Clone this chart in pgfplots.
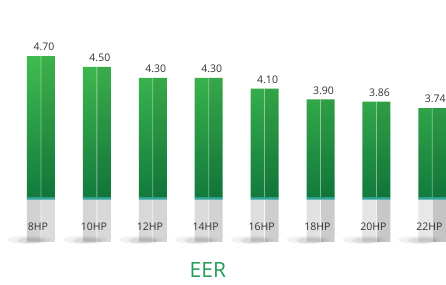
\documentclass[border=0pt]{standalone}
\usepackage{pgfplots}
\pgfplotsset{compat=1.18}
\usepackage{fontspec}
\setmainfont{Open Sans}
\definecolor{gtop}{HTML}{41BB4F}
\definecolor{gbot}{HTML}{127B3D}
\definecolor{teal1}{HTML}{2FA79A}
\definecolor{gl1}{HTML}{D2D2D2}
\definecolor{gl2}{HTML}{E8E8E8}
\definecolor{gr1}{HTML}{DCDCDC}
\definecolor{gr2}{HTML}{C4C4C4}
\definecolor{labelgray}{HTML}{333333}
\definecolor{eer}{HTML}{1F9E55}
\begin{document}
\begin{tikzpicture}
\useasboundingbox (0,0) rectangle (446pt,284pt);
\begin{axis}[at={(0,0)}, anchor=south west, scale only axis,
  width=446pt, height=284pt,
  xmin=-0.733, xmax=7.245, ymin=-1.605, ymax=3.635,
  axis on top,
  axis line style={draw=none}, tick style={draw=none}, ytick=\empty,
  xtick={0,...,7},
  xticklabels={8HP,10HP,12HP,14HP,16HP,18HP,20HP,22HP},
  xticklabel style={anchor=center, yshift=62pt, xshift=-3pt,
    font=\fontsize{10.5}{12}\selectfont, text=labelgray},
  ybar, bar width=28pt,
]
% shadows
\addplot[only marks, draw=none, fill=black, fill opacity=0.05, mark=*, mark size=4pt,
  mark options={xscale=5.5, draw=none, draw opacity=0, fill=black, fill opacity=0.05}]
  coordinates {(-0.22,-0.79) (0.78,-0.79) (1.78,-0.79) (2.78,-0.79)
               (3.78,-0.79) (4.78,-0.79) (5.78,-0.79) (6.78,-0.79)};
\addplot[only marks, draw=none, fill=black, fill opacity=0.09, mark=*, mark size=2.8pt,
  mark options={xscale=5, draw=none, draw opacity=0, fill=black, fill opacity=0.09}]
  coordinates {(-0.18,-0.80) (0.82,-0.80) (1.82,-0.80) (2.82,-0.80)
               (3.82,-0.80) (4.82,-0.80) (5.82,-0.80) (6.82,-0.80)};
% gray bases
\addplot[bar shift=-7pt, bar width=14pt, draw=none, left color=gl1, right color=gl2]
  coordinates {(0,-0.83) (1,-0.83) (2,-0.83) (3,-0.83) (4,-0.83) (5,-0.83) (6,-0.83) (7,-0.83)};
\addplot[bar shift=7pt, bar width=14pt, draw=none, left color=gr1, right color=gr2]
  coordinates {(0,-0.83) (1,-0.83) (2,-0.83) (3,-0.83) (4,-0.83) (5,-0.83) (6,-0.83) (7,-0.83)};
\addplot[bar shift=0pt, bar width=0.8pt, draw=none, fill=white, fill opacity=0.7]
  coordinates {(0,-0.83) (1,-0.83) (2,-0.83) (3,-0.83) (4,-0.83) (5,-0.83) (6,-0.83) (7,-0.83)};
% teal strip
\addplot[bar shift=0pt, draw=none, fill=teal1]
  coordinates {(0,-0.05) (1,-0.05) (2,-0.05) (3,-0.05) (4,-0.05) (5,-0.05) (6,-0.05) (7,-0.05)};
% green bars
\addplot[bar shift=0pt, draw=none, top color=gtop, bottom color=gbot,
  y filter/.expression={y-2.1},
  point meta=explicit symbolic, nodes near coords,
  nodes near coords style={font=\fontsize{10.5}{12}\selectfont, text=labelgray,
    anchor=south, xshift=3pt, yshift=1.5pt}]
  coordinates {(0,4.70) [4.70] (1,4.50) [4.50] (2,4.30) [4.30] (3,4.30) [4.30]
               (4,4.10) [4.10] (5,3.90) [3.90] (6,3.86) [3.86] (7,3.74) [3.74]};
\addplot[bar shift=7pt, bar width=14pt, draw=none, fill=black, fill opacity=0.05,
  y filter/.expression={y-2.1}]
  coordinates {(0,4.70) (1,4.50) (2,4.30) (3,4.30) (4,4.10) (5,3.90) (6,3.86) (7,3.74)};
\addplot[bar shift=0pt, bar width=0.8pt, draw=none, fill=white, fill opacity=0.45,
  y filter/.expression={y-2.1}]
  coordinates {(0,4.70) (1,4.50) (2,4.30) (3,4.30) (4,4.10) (5,3.90) (6,3.86) (7,3.74)};
\node[font=\fontsize{21}{24}\selectfont, text=eer] at (axis description cs:0.466,0.05) {EER};
\end{axis}
\end{tikzpicture}
\end{document}
